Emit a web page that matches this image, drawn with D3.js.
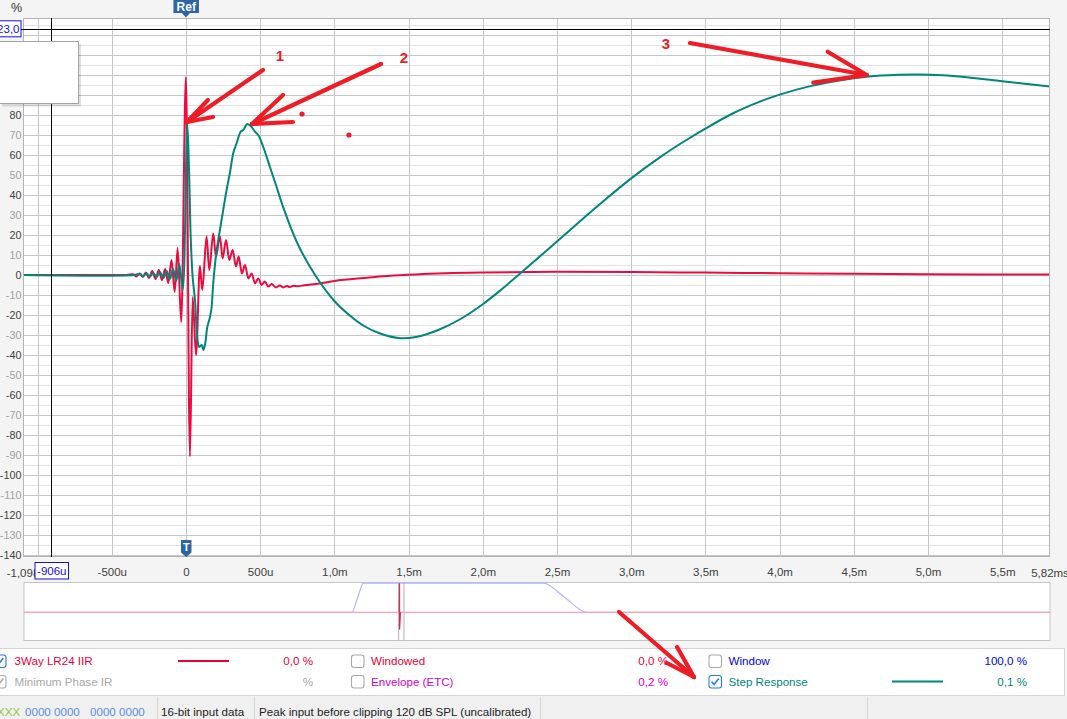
<!DOCTYPE html>
<html><head><meta charset="utf-8">
<script src="https://cdn.jsdelivr.net/npm/d3@7"></script>
<style>
html,body{margin:0;padding:0;background:#f4f4f4;}
svg{display:block;font-family:"Liberation Sans",Arial,sans-serif;}
</style></head><body>
<svg id="c" width="1067" height="719"></svg>
<script>
// ---------------- data ----------------
const timeDomainMs = [-1.098, 5.822];
const valueDomainPct = [-141, 128.5];
const xGridMs = [-1.0, -0.5, 0, 0.5, 1.0, 1.5, 2.0, 2.5, 3.0, 3.5, 4.0, 4.5, 5.0, 5.5];
const xTickMs = [-0.5, 0, 0.5, 1.0, 1.5, 2.0, 2.5, 3.0, 3.5, 4.0, 4.5, 5.0, 5.5];
const xTickLabels = ["-500u", "0", "500u", "1,0m", "1,5m", "2,0m", "2,5m", "3,0m", "3,5m", "4,0m", "4,5m", "5,0m", "5,5m"];
const xEdgeLabels = ["-1,098", "5,82ms"];
const yGridPct = [-140, -130, -120, -110, -100, -90, -80, -70, -60, -50, -40, -30, -20, -10, 0, 10, 20, 30, 40, 50, 60, 70, 80, 90, 100, 110, 120];
const yTickPct = [-140, -130, -120, -110, -100, -90, -80, -70, -60, -50, -40, -30, -20, -10, 0, 10, 20, 30, 40, 50, 60, 70, 80, 90, 100, 110];
const yLabel = "%";

// 3Way LR24 IIR impulse response (red)
const impulseTimeMs = [-1.098, -0.40, -0.357, -0.335, -0.313, -0.29, -0.27, -0.25, -0.227, -0.205, -0.183, -0.162, -0.14, -0.119, -0.097, -0.076, -0.056, -0.032,
  0, 0.027, 0.045, 0.068, 0.094, 0.110, 0.139, 0.157, 0.184, 0.202, 0.229, 0.247, 0.270, 0.292, 0.315, 0.337, 0.355, 0.377, 0.398, 0.420, 0.443, 0.465, 0.487, 0.510,
  0.532, 0.555, 0.577, 0.606, 0.633, 0.655, 0.68, 0.70, 0.725, 0.75, 0.80, 0.90, 1.0, 1.2, 1.4, 1.6, 1.8, 2.0, 2.5, 3.0, 3.5, 4.0, 4.5, 5.0, 5.822];
const impulseValuePct = [0, 0, 0.4, -0.7, 0.8, -1.0, 1.3, -1.5, 2.0, -2.0, 2.5, -2.5, 3.0, -4.0, 7.5, -8.5, 13.5, -23.5,
  99, -90.8, -11, -40, 4.5, -7.5, 19.2, 2.5, 20.8, 9.2, 19.2, 8.3, 17.5, 7.5, 12.5, 4.2, 9.2, 0.8, 5.0, -1.7, 0.8, -4.2, -1.7, -5.0,
  -3.3, -5.8, -4.5, -6.2, -5.3, -6.2, -5.5, -6.0, -5.4, -5.6, -5.1, -4.2, -3.0, -1.5, -0.3, 0.5, 1.0, 1.3, 1.6, 1.5, 1.2, 0.9, 0.6, 0.4, 0.2];

// Step response (teal)
const stepTimeMs = [-1.098, -0.35, -0.31, -0.29, -0.265, -0.245, -0.22, -0.198, -0.175, -0.152, -0.13, -0.108, -0.087, -0.065, -0.045, -0.022,
  0.009, 0.022, 0.032, 0.045, 0.061, 0.076, 0.090, 0.106, 0.117, 0.128, 0.144, 0.162, 0.173, 0.184, 0.207, 0.229, 0.251, 0.274, 0.296, 0.319,
  0.342, 0.369, 0.386, 0.413, 0.436, 0.465, 0.487, 0.521, 0.566, 0.611, 0.65, 0.75, 0.87, 1.0, 1.1, 1.2, 1.3, 1.43, 1.55, 1.7, 1.85, 2.0,
  2.12, 2.24, 2.4, 2.6, 2.8, 3.0, 3.2, 3.35, 3.5, 3.69, 3.85, 4.0, 4.2, 4.4, 4.6, 4.8, 4.93, 5.1, 5.26, 5.5, 5.822];
const stepValuePct = [0, 0, 0.6, -0.6, 0.8, -0.8, 1.0, -1.0, 1.5, -1.5, 2.0, -2.0, 3.0, -3.0, 5.5, -7.5,
  75.8, 49, 19, -1, -12.5, -31, -36, -35, -37.5, -35, -26, -21, -16, -4, 12.5, 22.5, 32.5, 42.5, 51, 61,
  66, 71.7, 72.5, 75.5, 74.5, 71.7, 70, 64, 54, 44, 35, 16, 0, -13, -20, -25.5, -29, -31.5, -31, -27.5, -22, -14.6,
  -7.6, 0, 10.3, 23.3, 36.1, 48.3, 59.2, 66.5, 73.2, 81, 86.2, 90.2, 94.3, 97.3, 99.2, 100.1, 100.3, 99.9, 98.9, 96.9, 94.2];

// cursor
const cursorTimeMs = -0.906, cursorTimeLabel = "-906u";
const cursorValuePct = 123.0, cursorValueLabel = "123,0";

// overview strip (whole measurement)
const overviewDomainMs = [-490.5, 849.7];
const overviewDomainPct = [-96.9, 102.4];
const windowTimeMs = [-490.5, -62.3, -54.7, -47.1, 187.9, 216.2, 244.6, 849.7];
const windowValuePct = [0, 0, 50, 100, 100, 50, 0, 0];
const overviewIrTimeMs = [-490.5, -1.0, 0, 0.03, 1.0, 849.7];
const overviewIrValuePct = [0, 0, 100, -59, 0, 0];

// legend
const legendNames = ["3Way LR24 IIR", "Minimum Phase IR", "Windowed", "Envelope (ETC)", "Window", "Step Response"];
const legendValues = ["0,0 %", "%", "0,0 %", "0,2 %", "100,0 %", "0,1 %"];
const legendChecked = [true, true, false, false, false, true];
const legendColors = ["#e8003a", "#a8a8a8", "#e8003a", "#d000d0", "#0000e6", "#00857c"];
const legendHasLine = [true, false, false, false, false, true];

// status bar
const statusTexts = ["16-bit input data", "Peak input before clipping 120 dB SPL (uncalibrated)"];

// hand-drawn annotations (in data units: ms, %)
const arrowTails = [[0.519, 102.5], [1.314, 105.5], [3.396, 116], [2.918, -168.5]];
const arrowTips = [[0.0067, 76.5], [0.445, 75.5], [4.587, 100], [3.423, -201]];
const arrowHeadA = [[0.148, 87.5], [0.654, 90], [4.324, 111.6], [3.309, -186]];
const arrowHeadB = [[0.182, 79], [0.721, 76.5], [4.227, 96.2], [3.241, -194]];
const annoLabels = ["1", "2", "3"];
const annoLabelPos = [[0.633, 110], [1.469, 109], [3.234, 116]];
const annoDots = [[0.782, 80.5], [1.098, 70]];

// ---------------- drawing ----------------
const RED = "#ed0a3f", TEAL = "#00857c", ANNO = "#ee1c24";
const svg = d3.select("#c");
const plot = {left: 23, right: 1050, top: 18, bottom: 557};
const x = d3.scaleLinear().domain(timeDomainMs).range([plot.left, plot.right]);
const y = d3.scaleLinear().domain(valueDomainPct).range([plot.bottom, plot.top]);

svg.append("rect").attr("width", 1067).attr("height", 719).attr("fill", "#f4f4f4");
svg.append("rect").attr("x", plot.left).attr("y", plot.top).attr("width", plot.right - plot.left)
  .attr("height", plot.bottom - plot.top).attr("fill", "#fff");

// grid
const gGrid = svg.append("g").attr("shape-rendering", "crispEdges");
const yMinor = d3.range(-140, 126, 5).filter(v => v % 10 !== 0);
gGrid.selectAll(".hmin").data(yMinor).join("line")
  .attr("x1", plot.left).attr("x2", plot.right).attr("y1", d => Math.round(y(d)) + 0.5).attr("y2", d => Math.round(y(d)) + 0.5)
  .attr("stroke", "#e2e2e2");
gGrid.selectAll(".hmaj").data(yGridPct).join("line")
  .attr("x1", plot.left).attr("x2", plot.right).attr("y1", d => Math.round(y(d)) + 0.5).attr("y2", d => Math.round(y(d)) + 0.5)
  .attr("stroke", "#c6c6c6");
gGrid.selectAll(".vg").data(xGridMs).join("line")
  .attr("y1", plot.top).attr("y2", plot.bottom).attr("x1", d => Math.round(x(d)) + 0.5).attr("x2", d => Math.round(x(d)) + 0.5)
  .attr("stroke", "#c6c6c6");

// traces
svg.append("clipPath").attr("id", "pc").append("rect")
  .attr("x", plot.left).attr("y", plot.top).attr("width", plot.right - plot.left).attr("height", plot.bottom - plot.top);
const lineRed = d3.line().x(d => x(d[0])).y(d => y(d[1])).curve(d3.curveMonotoneX);
const lineTeal = d3.line().x(d => x(d[0])).y(d => y(d[1])).curve(d3.curveCatmullRom.alpha(0.5));
const impulse = impulseTimeMs.map((t, i) => [t, impulseValuePct[i]]);
const step = stepTimeMs.map((t, i) => [t, stepValuePct[i]]);
const gLines = svg.append("g").attr("clip-path", "url(#pc)");
gLines.append("path").datum(impulse).attr("d", lineRed).attr("fill", "none").attr("stroke", RED).attr("stroke-width", 2).attr("stroke-linejoin", "round");
gLines.append("path").datum(step).attr("d", lineTeal).attr("fill", "none").attr("stroke", TEAL).attr("stroke-width", 2).attr("stroke-linejoin", "round");

// border
svg.append("rect").attr("x", plot.left + 0.5).attr("y", plot.top + 0.5).attr("width", plot.right - plot.left - 1)
  .attr("height", plot.bottom - plot.top - 1).attr("fill", "none").attr("stroke", "#b4b4b4").attr("shape-rendering", "crispEdges");

// axes
const yAxis = d3.axisLeft(y).tickValues(yTickPct).tickFormat(d => String(d)).tickSize(0).tickPadding(1.6);
const gy = svg.append("g").attr("transform", `translate(${plot.left},0)`).call(yAxis);
gy.select(".domain").remove();
gy.selectAll("text").attr("font-size", 10.8).attr("font-family", "Liberation Sans, Arial, sans-serif")
  .attr("fill", d => (d % 20 === 0 ? "#404040" : "#a0a0a0"));

const xAxis = d3.axisBottom(x).tickValues(xTickMs).tickFormat((d, i) => xTickLabels[i]).tickSize(0).tickPadding(11.2);
const gx = svg.append("g").attr("transform", `translate(0,${plot.bottom})`).call(xAxis);
gx.select(".domain").remove();
gx.selectAll("text").attr("font-size", 11.5).attr("font-family", "Liberation Sans, Arial, sans-serif").attr("fill", "#404040");
const edgeG = svg.append("g").attr("font-size", 11.5).attr("fill", "#404040").attr("text-anchor", "middle");
edgeG.selectAll("text").data(timeDomainMs).join("text")
  .attr("x", d => x(d)).attr("y", plot.bottom + 19.6).text((d, i) => xEdgeLabels[i]);
svg.append("text").attr("x", 11).attr("y", 11.5).attr("font-size", 12.5).attr("fill", "#333").text(yLabel);

// cursor lines
svg.append("line").attr("x1", Math.round(x(cursorTimeMs)) + 0.5).attr("x2", Math.round(x(cursorTimeMs)) + 0.5)
  .attr("y1", plot.top).attr("y2", plot.bottom).attr("stroke", "#000").attr("shape-rendering", "crispEdges");
svg.append("line").attr("x1", plot.left - 2).attr("x2", plot.right)
  .attr("y1", Math.round(y(cursorValuePct)) + 0.5).attr("y2", Math.round(y(cursorValuePct)) + 0.5)
  .attr("stroke", "#000").attr("shape-rendering", "crispEdges");

// overlay (empty info box)
svg.append("rect").attr("x", 2).attr("y", 43.5).attr("width", 79).attr("height", 63).attr("fill", "rgba(0,0,0,0.12)");
svg.append("rect").attr("x", -1.5).attr("y", 41.5).attr("width", 80).attr("height", 62).attr("fill", "#fff").attr("stroke", "#a4a4a4");

// cursor value boxes
const cy = y(cursorValuePct);
svg.append("rect").attr("x", -12).attr("y", cy - 8.2).attr("width", 33).attr("height", 16).attr("fill", "#fff").attr("stroke", "#1010e0");
svg.append("text").attr("x", 19.5).attr("y", cy + 4.2).attr("text-anchor", "end").attr("font-size", 11.5).attr("fill", "#1010e0").text(cursorValueLabel);
const cx = x(cursorTimeMs);
svg.append("rect").attr("x", cx - 16.5).attr("y", 562.5).attr("width", 33.5).attr("height", 16.5).attr("fill", "#fff").attr("stroke", "#1010e0");
svg.append("text").attr("x", cx + 0.3).attr("y", 575).attr("text-anchor", "middle").attr("font-size", 11.5).attr("fill", "#1010e0").text(cursorTimeLabel);

// Ref / T markers
const tagColor = "#2e64a0";
const x0 = x(0);
svg.append("path").attr("d", `M${x0 - 12.5},0 H${x0 + 13} V13 H${x0 + 4} L${x0},17.5 L${x0 - 4},13 H${x0 - 12.5} Z`).attr("fill", tagColor);
svg.append("text").attr("x", x0 + 0.3).attr("y", 11).attr("text-anchor", "middle").attr("font-size", 12).attr("font-weight", "bold").attr("fill", "#fff").text("Ref");
svg.append("path").attr("d", `M${x0 - 5},540 H${x0 + 5.5} V552.5 L${x0 + 0.3},557 L${x0 - 5},552.5 Z`).attr("fill", tagColor);
svg.append("text").attr("x", x0 + 0.3).attr("y", 550.5).attr("text-anchor", "middle").attr("font-size", 11).attr("font-weight", "bold").attr("fill", "#fff").text("T");

// overview strip
const ov = {left: 24, right: 1050, top: 582.5, bottom: 640.5};
const ox = d3.scaleLinear().domain(overviewDomainMs).range([ov.left, ov.right]);
const oy = d3.scaleLinear().domain(overviewDomainPct).range([ov.bottom, ov.top]);
svg.append("rect").attr("x", ov.left).attr("y", ov.top).attr("width", ov.right - ov.left).attr("height", ov.bottom - ov.top)
  .attr("fill", "#fff").attr("stroke", "#c4c4c4");
const oline = d3.line().x(d => ox(d[0])).y(d => oy(d[1])).curve(d3.curveMonotoneX);
const olineLin = d3.line().x(d => ox(d[0])).y(d => oy(d[1]));
svg.append("path").datum(windowTimeMs.map((t, i) => [t, windowValuePct[i]])).attr("d", oline)
  .attr("fill", "none").attr("stroke", "#b4b4ff").attr("stroke-width", 1.2);
const ovIr = overviewIrTimeMs.map((t, i) => [t, overviewIrValuePct[i]]);
svg.append("path").datum(ovIr).attr("d", olineLin).attr("fill", "none").attr("stroke", "#f7a3b7").attr("stroke-width", 1.2);
svg.append("path").datum(ovIr.filter(d => d[0] >= timeDomainMs[0] && d[0] <= timeDomainMs[1])).attr("d", olineLin)
  .attr("fill", "none").attr("stroke", RED).attr("stroke-width", 1.2);
svg.selectAll(".ovv").data(timeDomainMs).join("line")
  .attr("x1", d => ox(d)).attr("x2", d => ox(d)).attr("y1", ov.top).attr("y2", ov.bottom).attr("stroke", "#b0b0b0");

// legend
svg.append("rect").attr("x", -1).attr("y", 648.5).attr("width", 1065.5).attr("height", 47).attr("fill", "#fff").attr("stroke", "#d4d4d4");
const colX = [-7, 351, 708.5], textX = [14.5, 371, 728.5], valX = [313, 668, 1027], lineX = [[178, 229], null, [892, 943]];
const rowY = [661, 681.5];
legendNames.forEach((name, i) => {
  const c = Math.floor(i / 2), r = i % 2;
  const g = svg.append("g");
  const bx = colX[c], by = rowY[r] - 6.5;
  const checked = legendChecked[i];
  const boxCol = checked ? (i === 1 ? "#a8a8a8" : "#2d7ad6") : "#a8a8a8";
  g.append("rect").attr("x", bx + 0.5).attr("y", by + 0.5).attr("width", 12.5).attr("height", 12.5).attr("rx", 2.5)
    .attr("fill", "#fff").attr("stroke", boxCol).attr("stroke-width", 1.1);
  if (checked) {
    g.append("path").attr("d", `M${bx + 3},${by + 6.8} L${bx + 5.6},${by + 9.6} L${bx + 10.3},${by + 3.6}`)
      .attr("fill", "none").attr("stroke", boxCol).attr("stroke-width", 1.6);
  }
  g.append("text").attr("x", textX[c]).attr("y", rowY[r] + 4).attr("font-size", 11.6).attr("fill", legendColors[i]).text(name);
  g.append("text").attr("x", valX[c]).attr("y", rowY[r] + 4).attr("font-size", 11.6).attr("text-anchor", "end").attr("fill", legendColors[i]).text(legendValues[i]);
  if (legendHasLine[i]) {
    g.append("line").attr("x1", lineX[c][0]).attr("x2", lineX[c][1]).attr("y1", rowY[r]).attr("y2", rowY[r])
      .attr("stroke", legendColors[i]).attr("stroke-width", 2.2);
  }
});

// status bar
svg.append("rect").attr("x", 0).attr("y", 696).attr("width", 1067).attr("height", 23).attr("fill", "#f0f0f0");
[157.5, 254.5, 540.5, 867.5].forEach(sx => svg.append("line").attr("x1", sx).attr("x2", sx).attr("y1", 697).attr("y2", 719).attr("stroke", "#d6d6d6"));
svg.append("text").attr("x", -3).attr("y", 716).attr("font-size", 11.6).attr("fill", "#9ac43a").text("XXX");
svg.append("text").attr("x", 25).attr("y", 716).attr("font-size", 11.6).attr("fill", "#5a8ee0").text("0000 0000");
svg.append("text").attr("x", 90).attr("y", 716).attr("font-size", 11.6).attr("fill", "#5a8ee0").text("0000 0000");
svg.append("text").attr("x", 161).attr("y", 716).attr("font-size", 11.6).attr("fill", "#222").text(statusTexts[0]);
svg.append("text").attr("x", 259).attr("y", 716).attr("font-size", 11.6).attr("fill", "#222").text(statusTexts[1]);

// annotations
const ga = svg.append("g").attr("stroke", ANNO).attr("stroke-width", 4.2).attr("stroke-linecap", "round").attr("fill", "none");
arrowTails.forEach((tail, i) => {
  const tip = arrowTips[i];
  [tail, arrowHeadA[i], arrowHeadB[i]].forEach(p => {
    ga.append("line").attr("x1", x(p[0])).attr("y1", y(p[1])).attr("x2", x(tip[0])).attr("y2", y(tip[1]));
  });
});
svg.selectAll(".dot").data(annoDots).join("circle").attr("cx", d => x(d[0])).attr("cy", d => y(d[1])).attr("r", 2.6).attr("fill", ANNO);
svg.selectAll(".alab").data(annoLabels).join("text")
  .attr("x", (d, i) => x(annoLabelPos[i][0])).attr("y", (d, i) => y(annoLabelPos[i][1]) + 5.5)
  .attr("text-anchor", "middle").attr("font-size", 15).attr("font-weight", "bold").attr("fill", ANNO).text(d => d);
</script>
</body></html>
